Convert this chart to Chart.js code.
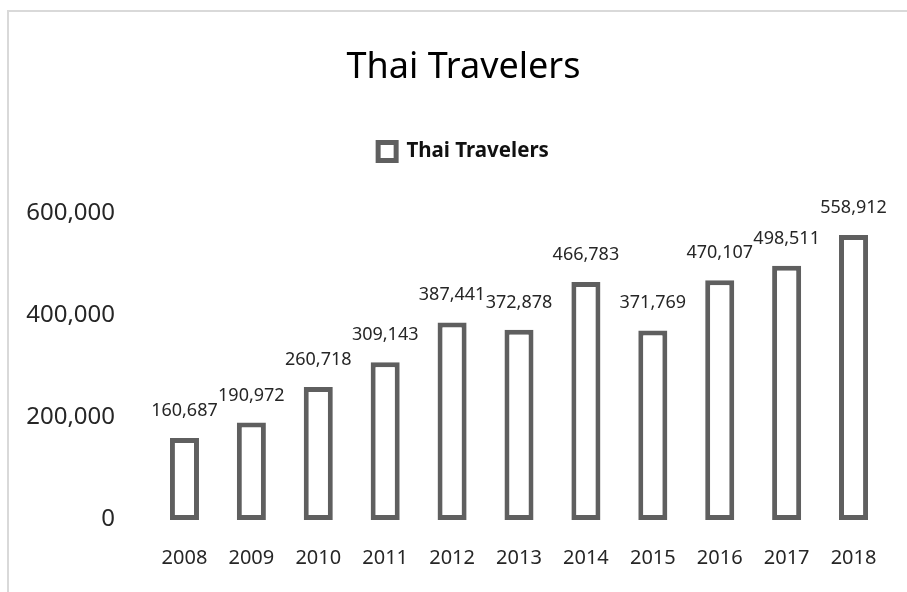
<!DOCTYPE html>
<html>
<head>
<meta charset="utf-8">
<title>Thai Travelers</title>
<script src="https://cdn.jsdelivr.net/npm/chart.js@4.4.1/dist/chart.umd.min.js"></script>
<style>
    html, body { margin: 0; padding: 0; background: #fff; }
    #frame {
        position: absolute; left: 7px; top: 10px; width: 1000px; height: 700px;
        border-left: 2px solid #d9d9d9; border-top: 2px solid #d9d9d9;
    }
    #wrap { position: absolute; left: 0; top: 0; width: 907px; height: 592px; }
</style>
</head>
<body>
<div id="frame"></div>
<div id="wrap"><canvas id="chart" width="907" height="592"></canvas></div>
<script>
// Data
const years = ['2008', '2009', '2010', '2011', '2012', '2013', '2014', '2015', '2016', '2017', '2018'];
const travelers = [160687, 190972, 260718, 309143, 387441, 372878, 466783, 371769, 470107, 498511, 558912];
const yTicks = [0, 200000, 400000, 600000];

const barColor = '#5f5f5f';
const textColor = '#262626';
const fontName = '"Noto Sans", "DejaVu Sans", sans-serif';

/**
 * Value labels above each bar
 */
const valueLabels = {
    id: 'valueLabels',
    afterDatasetsDraw(chart) {
        const ctx = chart.ctx;
        const meta = chart.getDatasetMeta(0);
        ctx.save();
        ctx.font = '18px ' + fontName;
        ctx.fillStyle = textColor;
        ctx.textAlign = 'center';
        ctx.textBaseline = 'alphabetic';
        meta.data.forEach((bar, i) => {
            ctx.fillText(travelers[i].toLocaleString('en-US'), bar.x, bar.y - 22);
        });
        ctx.restore();
    }
};

new Chart(document.getElementById('chart'), {
    type: 'bar',
    data: {
        labels: years,
        datasets: [{
            label: 'Thai Travelers',
            data: travelers,
            backgroundColor: '#ffffff',
            borderColor: barColor,
            borderWidth: 5,
            borderSkipped: false,
            categoryPercentage: 1,
            barPercentage: 0.434
        }]
    },
    options: {
        responsive: false,
        animation: false,
        layout: { padding: { left: 20, right: 0, top: 0, bottom: 0 } },
        plugins: {
            title: {
                display: true,
                text: 'Thai Travelers',
                color: '#000',
                font: { family: fontName, size: 36, weight: 'normal' },
                padding: { top: 46, bottom: 32 }
            },
            // empty block used as a spacer between legend and plot
            subtitle: {
                display: true,
                text: '',
                weight: 500,
                font: { size: 10, lineHeight: 1 },
                padding: { top: 0, bottom: 32.3 }
            },
            legend: {
                display: true,
                position: 'top',
                labels: {
                    color: '#111',
                    font: { family: fontName, size: 20.5, weight: 'bold' },
                    boxWidth: 18,
                    boxHeight: 18,
                    padding: 20
                }
            },
            tooltip: { enabled: false }
        },
        scales: {
            x: {
                grid: { display: false },
                border: { display: false },
                ticks: { color: textColor, font: { family: fontName, size: 20 }, padding: 18 },
                afterFit: (scale) => { scale.height = 72; }
            },
            y: {
                min: 0,
                max: 600000,
                grid: { display: false },
                border: { display: false },
                afterBuildTicks: (scale) => { scale.ticks = yTicks.map(v => ({ value: v })); },
                ticks: {
                    color: textColor,
                    font: { family: fontName, size: 24 },
                    padding: 28,
                    labelOffset: -1,
                    callback: (v) => v.toLocaleString('en-US')
                },
                afterFit: (scale) => { scale.width = 131; }
            },
            // blank right-hand margin so the plot ends where the reference does
            yRight: {
                position: 'right',
                display: true,
                grid: { display: false },
                border: { display: false },
                ticks: { display: false },
                afterFit: (scale) => { scale.width = 20; }
            }
        }
    },
    plugins: [valueLabels]
});
</script>
</body>
</html>
